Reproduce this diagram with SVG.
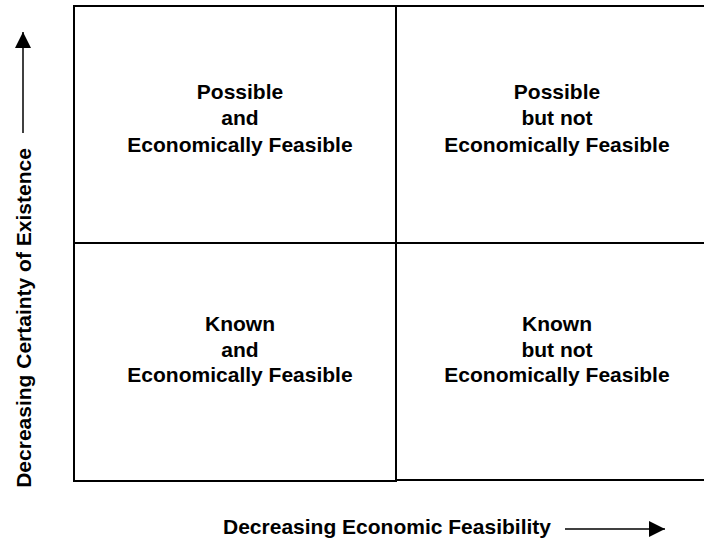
<svg xmlns="http://www.w3.org/2000/svg" width="704" height="544" viewBox="0 0 704 544">
  <style>
    .grid { stroke: #000; stroke-width: 2; fill: none; }
    .lbl { font-family: "Liberation Sans", Arial, sans-serif; font-weight: bold; font-size: 21px; fill: #000; text-anchor: middle; }
    .axis { stroke: #000; stroke-width: 1.5; fill: none; }
  </style>
  <defs>
    <marker id="arrow" viewBox="0 0 16 16" refX="16" refY="8" markerWidth="16" markerHeight="16" markerUnits="userSpaceOnUse" orient="auto">
      <path d="M0,0 L16,8 L0,16 Z" fill="#000"/>
    </marker>
  </defs>
  <rect width="704" height="544" fill="#fff"/>
  <g id="grid">
    <line class="grid" x1="74" y1="6" x2="704" y2="6"/>
    <line class="grid" x1="74" y1="5" x2="74" y2="482"/>
    <line class="grid" x1="396" y1="6" x2="396" y2="482"/>
    <line class="grid" x1="74" y1="243" x2="704" y2="243"/>
    <line class="grid" x1="74" y1="481" x2="396" y2="481"/>
    <line class="grid" x1="396" y1="480" x2="704" y2="480"/>
  </g>
  <g id="q-possible-feasible">
    <text class="lbl" x="240" y="99">Possible</text>
    <text class="lbl" x="240" y="125">and</text>
    <text class="lbl" x="240" y="152">Economically Feasible</text>
  </g>
  <g id="q-possible-not-feasible">
    <text class="lbl" x="557" y="99">Possible</text>
    <text class="lbl" x="557" y="125">but not</text>
    <text class="lbl" x="557" y="152">Economically Feasible</text>
  </g>
  <g id="q-known-feasible">
    <text class="lbl" x="240" y="331">Known</text>
    <text class="lbl" x="240" y="357">and</text>
    <text class="lbl" x="240" y="382">Economically Feasible</text>
  </g>
  <g id="q-known-not-feasible">
    <text class="lbl" x="557" y="331">Known</text>
    <text class="lbl" x="557" y="357">but not</text>
    <text class="lbl" x="557" y="382">Economically Feasible</text>
  </g>
  <g id="y-axis-label">
    <text class="lbl" transform="translate(31,318) rotate(-90)">Decreasing Certainty of Existence</text>
  </g>
  <g id="x-axis-label">
    <text class="lbl" x="387" y="534">Decreasing Economic Feasibility</text>
  </g>
  <g id="connectors">
    <line class="axis" x1="23" y1="133" x2="23" y2="32" marker-end="url(#arrow)"/>
    <line class="axis" x1="565" y1="529" x2="665" y2="529" marker-end="url(#arrow)"/>
  </g>
</svg>
